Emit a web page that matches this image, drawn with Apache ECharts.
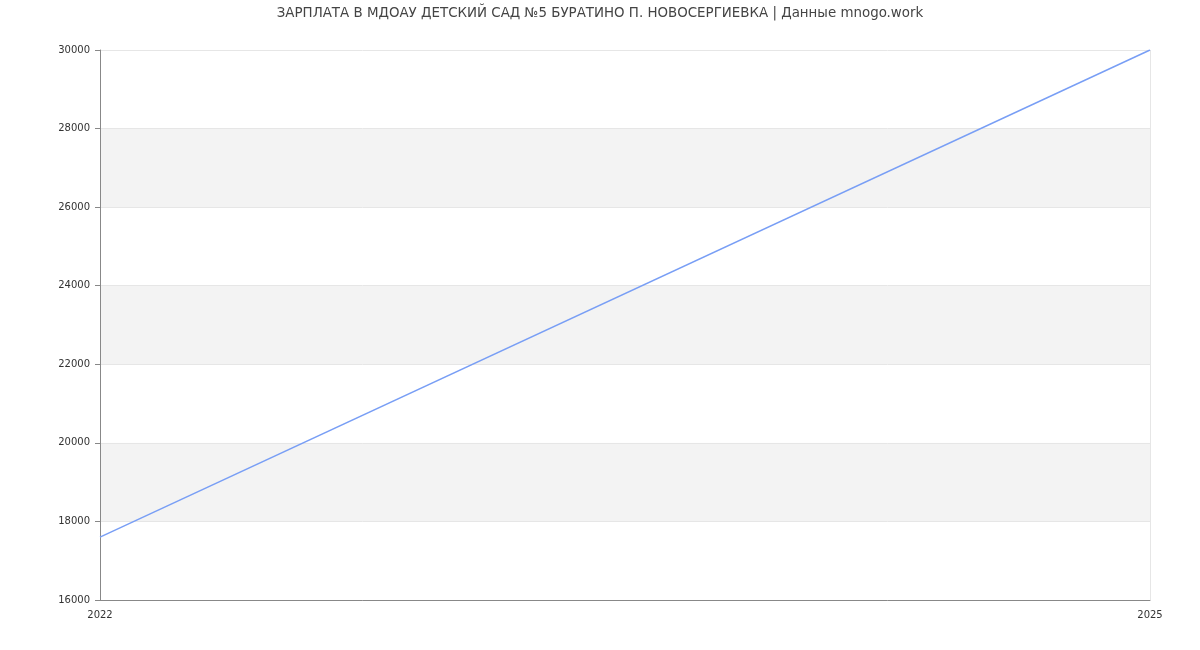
<!DOCTYPE html>
<html><head><meta charset="utf-8">
<script src="https://cdn.jsdelivr.net/npm/echarts@6/dist/echarts.min.js"></script>
<style>html,body{margin:0;padding:0;background:#fff}#c{width:1200px;height:650px}</style>
</head><body><div id="c"></div>
<script>
const titleText = 'ЗАРПЛАТА В МДОАУ ДЕТСКИЙ САД №5 БУРАТИНО П. НОВОСЕРГИЕВКА | Данные mnogo.work';
const years = ['2022', '2025'];
const salary = [17600, 30000];
const chart = echarts.init(document.getElementById('c'));
chart.setOption({
  animation: false,
  backgroundColor: '#fff',
  textStyle: { fontFamily: 'DejaVu Sans' },
  title: { text: titleText, left: 'center', top: 2,
    textStyle: { fontSize: 13.4, fontWeight: 'normal', color: '#444', fontFamily: 'DejaVu Sans' } },
  grid: { left: 100, right: 50, top: 50, bottom: 50 },
  xAxis: {
    type: 'category', data: years, boundaryGap: false,
    axisLine: { lineStyle: { color: '#888' } },
    axisTick: { show: false },
    axisLabel: { color: '#333', fontSize: 10, margin: 10 },
    splitLine: { show: true, lineStyle: { color: '#e6e6e6' } }
  },
  yAxis: {
    type: 'value', min: 16000, max: 30000, interval: 2000,
    axisLine: { show: true, lineStyle: { color: '#888' } },
    axisTick: { show: true, length: 5, lineStyle: { color: '#888' } },
    axisLabel: { color: '#333', fontSize: 10, margin: 10, formatter: v => String(v) },
    splitLine: { show: true, lineStyle: { color: '#e6e6e6' } },
    splitArea: { show: true, areaStyle: { color: ['#ffffff', '#f3f3f3'] } }
  },
  series: [{
    type: 'line', data: salary, showSymbol: false, symbol: 'none',
    lineStyle: { color: '#789ef5', width: 1.5 }
  }]
});
</script></body></html>
